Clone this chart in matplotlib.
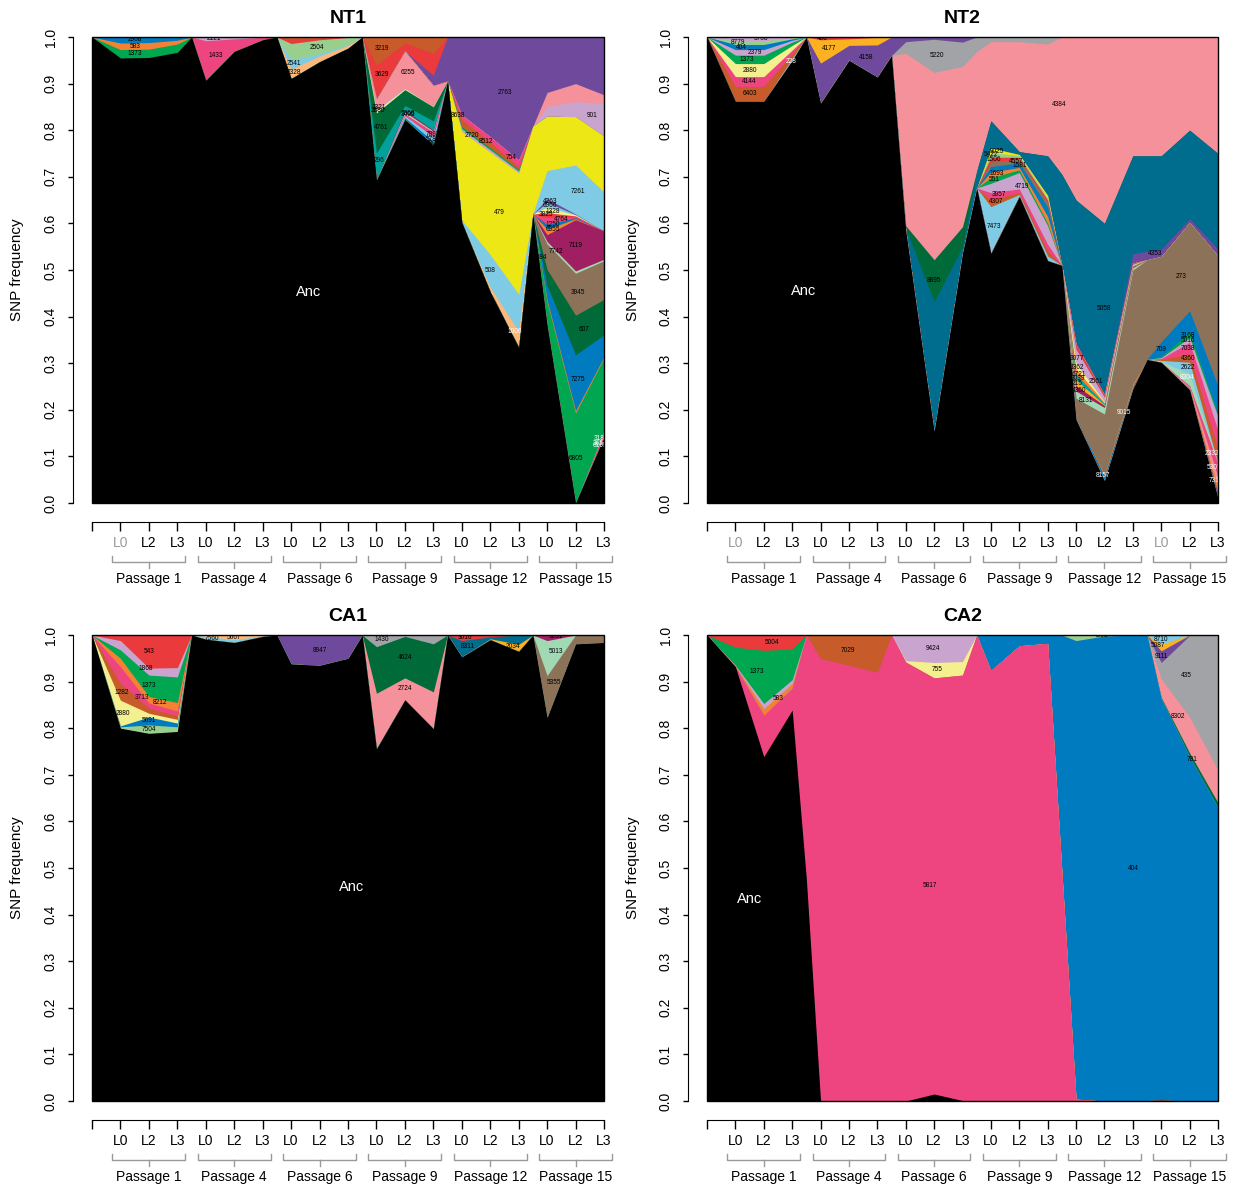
import numpy as np
import matplotlib
matplotlib.use('Agg')
import matplotlib.pyplot as plt
from matplotlib.transforms import blended_transform_factory
from matplotlib.patches import Rectangle

plt.rcParams['font.family'] = ['Liberation Sans', 'DejaVu Sans']

passages = ['Passage 1', 'Passage 4', 'Passage 6', 'Passage 9', 'Passage 12', 'Passage 15']
lines = ['L0', 'L2', 'L3']

# ---- NT1 (layers listed bottom -> top, first = first sample column 1..18)
nt1_ids = ['1373', '583', '2968', '1433', '2121', '2328', '2541', '2504', '', '',
           '2806', '5783', '7893', '3405', '7056', '296', '4761', '2880', '3321', '6255',
           '6165', '3651', '3180', '6805', '4284', '7275', '607', '3945', '7742', '7119',
           '6955', '1250', '4764', '3825', '1328', '6966', '4263', '7261',
           '1006', '508', '479', '8638', '2720', '8512', '754', '901', '', '2763', '3629', '3219']
nt1_first = [1, 1, 1, 4, 4, 7, 7, 7, 7, 7,
             10, 10, 10, 10, 10, 10, 10, 10, 10, 10,
             18, 18, 18, 16, 16, 16, 16, 16, 16, 16,
             16, 16, 16, 16, 16, 16, 16, 16,
             14, 13, 13, 13, 13, 13, 13, 16, 16, 12, 10, 10]
nt1_freq = [[0.018, 0.018, 0.018], [0.014, 0.014, 0.008], [0.013, 0.012, 0.007],
            [0.085, 0.027, 0.005], [0.008, 0.004, 0.001],
            [0.02, 0.012, 0.006], [0.02, 0.005, 0.002], [0.035, 0.03, 0.015],
            [0.01, 0.004, 0.001], [0.004, 0.002, 0.0],
            [0, 0.004, 0.008], [0, 0.004, 0.01], [0, 0.004, 0.01], [0, 0.004, 0.002],
            [0, 0.004, 0.002], [0.058, 0.01, 0.02], [0.086, 0.034, 0.03],
            [0.005, 0.002, 0], [0.005, 0.002, 0], [0.02, 0.079, 0.046],
            [0.006], [0.004], [0.003], [0.05, 0.193, 0.156], [0.005, 0.005, 0.003],
            [0.03, 0.12, 0.047], [0.035, 0.085, 0.076], [0.055, 0.09, 0.083],
            [0.005, 0.005, 0.003], [0.015, 0.11, 0.061],
            [0.012, 0.002, 0], [0.01, 0.002, 0], [0.015, 0.002, 0], [0.01, 0.002, 0],
            [0.012, 0.002, 0], [0.01, 0.001, 0], [0.008, 0.001, 0], [0.06, 0.105, 0.083],
            [0.01, 0.034], [0.005, 0.07, 0.08], [0.19, 0.22, 0.26, 0.117, 0.104, 0.12],
            [0.006, 0.005, 0.004], [0.005, 0.004, 0.003], [0.015, 0.012, 0.006],
            [0.01, 0.012, 0.015], [0.021, 0.032, 0.071], [0.03, 0.039, 0.018],
            [0.022, 0.167, 0.214, 0.264, 0.119, 0.10, 0.124],
            [0.073, 0.017, 0.047], [0.06, 0.013, 0.035]]
nt1_cols = ['green', 'orange', 'blue', 'pink', 'lav', 'lorange', 'lblue', 'lgreen', 'red', 'burnt',
            'blue', 'lblue', 'pink', 'mint', 'maroon', 'aqua', 'dkgreen', 'lyellow', 'lav', 'salmon',
            'pink', 'red', 'lav', 'green', 'orange', 'blue', 'dkgreen', 'brown', 'mint', 'maroon',
            'orange', 'blue', 'pink', 'red', 'lyellow', 'lblue', 'purple', 'lblue',
            'lorange', 'lblue', 'yellow', 'lav', 'green', 'burnt', 'pink', 'lav', 'salmon',
            'purple', 'red', 'burnt']
nt1_labx = [1.5, 1.5, 1.5, 4.35, 4.3, 7.1, 7.1, 7.9, None, None,
            12.0, 12.0, 12.0, 11.1, 11.1, 10.1, 10.15, 10.05, 10.1, 11.1,
            17.85, 17.85, 17.9, 17.0, 15.75, 17.1, 17.3, 17.1, 16.3, 17.0,
            16.2, 16.2, 16.5, 15.95, 16.2, 16.1, 16.1, 17.1,
            14.85, 14.0, 14.3, 12.85, 13.35, 13.85, 14.75, 17.6, None, 14.5, 10.2, 10.2]
nt1_white = ['6165', '3651', '3180', '1006']

# ---- NT2
nt2_ids = ['228', '6403', '4144', '2880', '1373', '2379', '404', '8779', '3708',
           '731', '', '5307', '2332', '8304', '2622', '4360', '7038', '5016', '3168', '709',
           '8157', '9015', '273', '8131', '4360', '215', '3039', '6721', '3362', '3077', '2561',
           '7473', '4307', '3957', '4719', '551', '1693', '1581', '4557', '1506', '5422', '9025',
           '4353', '5058', '8895', '4384', '5220', '4158', '4177', '400']
nt2_first = [3, 1, 1, 1, 1, 1, 1, 1, 1,
             17, 17, 17, 17, 16, 16, 16, 16, 16, 16, 16,
             13, 14, 13, 13, 13, 13, 13, 13, 13, 13, 13,
             10, 10, 10, 10, 10, 10, 10, 10, 10, 10, 10,
             13, 7, 7, 7, 7, 4, 4, 4]
nt2_freq = [[0.004], [0.032, 0.032, 0.01], [0.021, 0.021, 0.008], [0.028, 0.028, 0.01],
            [0.018, 0.018, 0.007], [0.012, 0.012, 0.004], [0.011, 0.011, 0.003],
            [0.008, 0.008, 0.002], [0.008, 0.008, 0.002],
            [0.002, 0.01], [0.002, 0.015], [0.002, 0.02], [0.003, 0.03],
            [0.002, 0.025, 0.0], [0.002, 0.025, 0.0], [0.002, 0.018, 0.03],
            [0.002, 0.025, 0.04], [0.002, 0.01, 0.03], [0.002, 0.012, 0.005],
            [0.032, 0.045, 0.06],
            [0.003, 0.01, 0.005], [0.003, 0.005], [0.043, 0.13, 0.245, 0.183, 0.19, 0.28],
            [0.015, 0.014, 0.005], [0.012, 0.004, 0.002], [0.012, 0.002, 0.001],
            [0.012, 0.002, 0.001], [0.012, 0.002, 0.001], [0.012, 0.002, 0.001],
            [0.03, 0.01, 0.002], [0.01, 0.005, 0.002],
            [0.1, 0.004, 0.01], [0.015, 0.004, 0.01], [0.015, 0.008, 0.015],
            [0.02, 0.035, 0.04], [0.012, 0.006, 0.005], [0.012, 0.005, 0.015],
            [0.012, 0.01, 0.02], [0.01, 0.008, 0.01], [0.01, 0.004, 0.005],
            [0.01, 0.004, 0.005], [0.01, 0.002, 0.005],
            [0.005, 0.003, 0.02, 0.016, 0.008, 0.015],
            [0.005, 0.278, 0.014, 0.058, 0.006, 0.085, 0.305, 0.365, 0.21, 0.2, 0.19, 0.205],
            [0.005, 0.09, 0.043],
            [0.37, 0.402, 0.344, 0.17, 0.236, 0.24, 0.35, 0.4, 0.255, 0.255, 0.2, 0.25],
            [0.025, 0.071, 0.052, 0.01, 0.01, 0.015],
            [0.086, 0.032, 0.069, 0.01, 0.005, 0.011], [0.05, 0.014, 0.016],
            [0.006, 0.004, 0.001]]
nt2_cols = ['lblue', 'burnt', 'pink', 'lyellow', 'green', 'lav', 'blue', 'lgreen', 'lav',
            'purple', 'orange', 'salmon', 'pink', 'mint', 'lblue', 'burnt', 'pink', 'lav', 'green', 'blue',
            'blue', 'orange', 'brown', 'mint', 'maroon', 'gold', 'aqua', 'orange', 'lyellow', 'lav', 'red',
            'lblue', 'burnt', 'pink', 'lav', 'green', 'orange', 'blue', 'brown', 'red', 'lgreen', 'yellow',
            'purple', 'teal', 'dkgreen', 'salmon', 'gray', 'purple', 'gold', 'red']
nt2_labx = [2.95, 1.5, 1.5, 1.5, 1.4, 1.7, 1.2, 1.1, 1.9,
            17.85, None, 17.85, 17.8, 16.9, 16.95, 16.95, 16.95, 16.95, 16.95, 16.0,
            13.95, 14.7, 16.7, 13.35, 13.1, 13.05, 13.05, 13.1, 13.05, 13.05, 13.7,
            10.1, 10.2, 10.3, 11.1, 10.1, 10.2, 11.0, 10.9, 10.1, 10.0, 10.2,
            15.8, 14.0, 8.0, 12.4, 8.1, 5.6, 4.3, 4.05]
nt2_white = ['228', '731', '5307', '2332', '8157', '9015', '8304']

# ---- CA1
ca1_ids = ['7504', '5691', '2880', '1282', '3713', '8212', '1373', '1868', '543',
           '7560', '5667', '8947', '2724', '4624', '1430', '2034', '8311', '3016',
           '5355', '5013', '9261']
ca1_first = [1, 1, 1, 1, 1, 1, 1, 1, 1, 4, 4, 7, 10, 10, 10, 14, 13, 13, 16, 16, 16]
ca1_freq = [[0.003, 0.018, 0.01], [0.002, 0.017, 0.008], [0.055, 0.008, 0.008],
            [0.036, 0.011, 0.008], [0.036, 0.011, 0.01], [0.018, 0.014, 0.018],
            [0.018, 0.046, 0.055], [0.02, 0.015, 0.02], [0.012, 0.071, 0.07],
            [0.006, 0.006, 0.001], [0.003, 0.01, 0.002], [0.062, 0.065, 0.05],
            [0.119, 0.047, 0.079], [0.1, 0.089, 0.103], [0.025, 0.003, 0.019],
            [0.002, 0.015], [0.035, 0.004, 0.02], [0.012, 0.004, 0.0],
            [0.09, 0.019, 0.016], [0.075], [0.012]]
ca1_cols = ['lgreen', 'blue', 'lyellow', 'burnt', 'pink', 'orange', 'green', 'lav', 'red',
            'lblue', 'lorange', 'purple', 'salmon', 'dkgreen', 'gray', 'gold', 'teal', 'red',
            'brown', 'mint', 'maroon']
ca1_labx = [2.0, 2.0, 1.1, 1.05, 1.75, 2.4, 2.0, 1.9, 2.0, 4.2, 5.0, 8.0, 11.0, 11.0, 10.2,
            14.8, 13.2, 13.1, 16.25, 16.3, 16.3]

# ---- CA2 (nested clones: parent given by id)
ca2_ids = ['5817', '7029', '755', '9424', '404', '4851', '781', '8302', '435', '9111',
           '5087', '8710', '583', '', '1373', '5004']
ca2_parent = [None, '5817', '5817', '5817', '5817', '404', '404', '404', '404', '404',
              '404', '404', None, None, None, None]
ca2_first = [2, 4, 7, 7, 10, 13, 16, 16, 16, 16, 16, 16, 1, 1, 1, 1]
ca2_freq = [[0.089, 0.047, 0.949, 0.935, 0.92, 0.942, 0.893, 0.913, 0.924, 0.977, 0.982, 0.004],
            [0.051, 0.065, 0.08], [0.003, 0.033, 0.029], [0.055, 0.059, 0.057],
            [0.076, 0.023, 0.018, 0.984, 0.998, 1.0, 0.862, 0.739, 0.63],
            [0.012, 0.002], [0.002, 0.008, 0.01], [0.04, 0.077, 0.07], [0.035, 0.175, 0.29],
            [0.025, 0.001], [0.014, 0.0], [0.02, 0.0],
            [0.002, 0.014, 0.01], [0.001, 0.011, 0.008], [0.039, 0.114, 0.066],
            [0.026, 0.033, 0.03]]
ca2_cols = ['pink', 'burnt', 'lyellow', 'lav', 'blue', 'lgreen', 'dkgreen', 'salmon', 'gray',
            'purple', 'gold', 'lblue', 'orange', 'lav', 'green', 'red']
ca2_labx = [7.85, 4.97, 8.1, 7.96, 15.0, 13.9, 17.1, 16.6, 16.9, 16.0, 15.9, 16.0,
            2.5, None, 1.75, 2.3]

pal = dict(red='#EA3A3C', green='#00A650', orange='#F58233', lav='#C9A4CE', blue='#007BC0',
           burnt='#C75B2A', pink='#EE4581', lyellow='#F4EF8F', lgreen='#99CF8C',
           lorange='#FDB879', lblue='#7FCBE5', purple='#6F4A9C', salmon='#F4919A',
           dkgreen='#006B38', gray='#A1A3A7', teal='#006C8E', aqua='#00A19B', mint='#A2D9B5',
           brown='#8C7259', maroon='#A01F62', yellow='#EDE715', gold='#FBB120')

grid = []
for t in range(19):
    grid.append(t)
    if t in (3, 6, 9, 12, 15):
        grid.append(t + 0.5)
grid = np.array(grid, dtype=float)


def build(ids, first, freq, parents=None):
    n = len(ids)
    if parents is None:
        parents = [None] * n
    own = np.zeros((n, 19))
    for i in range(n):
        own[i, first[i]:first[i] + len(freq[i])] = freq[i]
    kids = [[j for j in range(n) if parents[j] is not None and parents[j] == ids[i]]
            for i in range(n)]

    def tot(i):
        s = own[i].copy()
        for c in kids[i]:
            s += tot(c)
        return s
    total = np.array([tot(i) for i in range(n)])
    out = np.zeros((n, len(grid)))
    for k, x in enumerate(grid):
        if x == int(x):
            out[:, k] = own[:, int(x)]
        else:
            t = int(x)
            th = np.where((total[:, t] > 0) & (total[:, t + 1] > 0),
                          (total[:, t] + total[:, t + 1]) / 2, 0.0)
            oh = np.array([th[i] - sum(th[c] for c in kids[i]) for i in range(n)])
            out[:, k] = np.clip(oh, 0, None)
    return out


def panel(ax, title, ids, first, freq, cols, labx, white=(), parents=None,
          anc_pos=(8, 0.45), grey_ticks=()):
    out = build(ids, first, freq, parents)
    anc = np.clip(1 - out.sum(axis=0), 0, None)
    tops = anc + np.cumsum(out, axis=0)
    # draw from top layer down so every fill reaches the baseline (no seams)
    for i in range(len(ids) - 1, -1, -1):
        ax.fill_between(grid, 0, tops[i], color=pal[cols[i]], lw=0)
    ax.fill_between(grid, 0, anc, color='black', lw=0)

    bottoms = tops - out
    for i, name in enumerate(ids):
        if not name or labx[i] is None:
            continue
        yb = np.interp(labx[i], grid, bottoms[i])
        yt = np.interp(labx[i], grid, tops[i])
        ax.text(labx[i], (yb + yt) / 2, name, fontsize=4.7, ha='center', va='center',
                color='white' if name in white else 'black', clip_on=True)
    ax.text(anc_pos[0], anc_pos[1], 'Anc', color='white', fontsize=10.5,
            ha='center', va='center')

    ax.set_xlim(0, 18)
    ax.set_ylim(0, 1)
    ax.set_title(title, fontsize=14, fontweight='bold', pad=10)
    for s in ('top', 'right'):
        ax.spines[s].set_visible(False)
    ax.spines['left'].set_position(('outward', 14))
    ax.spines['left'].set_bounds(0, 1)
    ax.spines['bottom'].set_position(('outward', 13.5))
    ax.spines['bottom'].set_bounds(0, 18)
    ax.add_patch(Rectangle((0, 0), 1, 1, transform=ax.transAxes, fill=False,
                           lw=1.0, ec='black', clip_on=False, zorder=5))

    ax.set_yticks(np.arange(0, 1.01, 0.1))
    ax.set_yticklabels(['%.1f' % v for v in np.arange(0, 1.01, 0.1)])
    ax.tick_params(axis='y', length=3.6, width=1, pad=7, labelsize=10, labelrotation=90)
    for lab in ax.get_yticklabels():
        lab.set_va('center')
    ax.set_ylabel('SNP frequency', fontsize=11)
    ax.yaxis.set_label_coords(-0.132, 0.5)

    ax.set_xticks(range(19))
    ax.set_xticklabels([''] + lines * 6)
    ax.tick_params(axis='x', length=6.5, width=1, pad=3.5, labelsize=10)
    labs = ax.get_xticklabels()
    for k in grey_ticks:
        labs[k].set_color('#9A9A9A')

    tr = blended_transform_factory(ax.transData, ax.transAxes)
    hpx = 466.0
    for g, p in enumerate(passages):
        a, b, c = 3 * g + 0.72, 3 * g + 3.28, 3 * g + 2
        ax.plot([a, a, b, b], [-53 / hpx, -59 / hpx, -59 / hpx, -53 / hpx], color='#9A9A9A',
                lw=1, transform=tr, clip_on=False)
        ax.plot([c, c], [-59 / hpx, -65 / hpx], color='#9A9A9A', lw=1, transform=tr,
                clip_on=False)
        ax.text(c, -76 / hpx, p, fontsize=10, ha='center', va='center', transform=tr)


fig = plt.figure(figsize=(12.37, 11.86), dpi=100)
W, H = 1237.0, 1186.0
ax1 = fig.add_axes([92 / W, 1 - 503 / H, 512 / W, 466 / H])
ax2 = fig.add_axes([707 / W, 1 - 503 / H, 511 / W, 466 / H])
ax3 = fig.add_axes([92 / W, 1 - 1101 / H, 512 / W, 466 / H])
ax4 = fig.add_axes([707 / W, 1 - 1101 / H, 511 / W, 466 / H])

panel(ax1, 'NT1', nt1_ids, nt1_first, nt1_freq, nt1_cols, nt1_labx, nt1_white,
      anc_pos=(7.6, 0.453), grey_ticks=[1])
panel(ax2, 'NT2', nt2_ids, nt2_first, nt2_freq, nt2_cols, nt2_labx, nt2_white,
      anc_pos=(3.42, 0.455), grey_ticks=[1, 16])
panel(ax3, 'CA1', ca1_ids, ca1_first, ca1_freq, ca1_cols, ca1_labx,
      anc_pos=(9.14, 0.459))
panel(ax4, 'CA2', ca2_ids, ca2_first, ca2_freq, ca2_cols, ca2_labx, parents=ca2_parent,
      anc_pos=(1.5, 0.433))

fig.savefig('out.png', dpi=100)
